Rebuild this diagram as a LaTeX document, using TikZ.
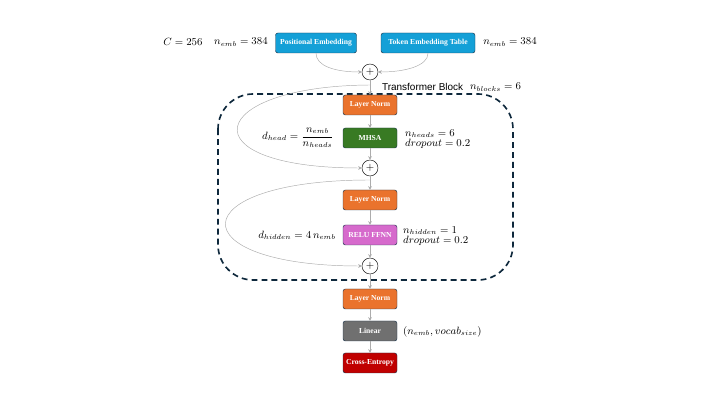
\documentclass[tikz,border=0pt]{standalone}
\usepackage{amsmath}
\usepackage{fontspec}
\setmainfont{Liberation Serif}
\newfontfamily\labelfont{Liberation Sans}
\usetikzlibrary{arrows.meta}

\definecolor{boxline}{RGB}{31,56,78}
\definecolor{blockline}{RGB}{14,40,60}
\definecolor{embblue}{RGB}{20,160,215}
\definecolor{normorange}{RGB}{234,115,45}
\definecolor{attngreen}{RGB}{56,122,35}
\definecolor{ffnpink}{RGB}{214,106,204}
\definecolor{lingray}{RGB}{112,112,112}
\definecolor{lossred}{RGB}{192,0,0}

\begin{document}
\begin{tikzpicture}[x=0.03cm, y=-0.03cm,
    layer/.style={draw=boxline, rounded corners=2pt, minimum height=0.6cm, minimum width=1.62cm,
                  inner sep=1pt, text=white, font=\fontsize{6.5}{7}\selectfont\bfseries},
    addop/.style={draw, circle, minimum size=0.48cm, inner sep=0pt, font=\small},
    flow/.style={gray!65, -{Stealth[length=3pt,width=3pt]}},
    note/.style={font=\small}]
    \useasboundingbox (0,0) rectangle (720,405);

    % Embeddings
    \node[layer, fill=embblue, minimum width=2.43cm] (posemb) at (316,43) {Positional Embedding};
    \node[layer, fill=embblue, minimum width=2.82cm] (tokemb) at (428,43) {Token Embedding Table};
    \node[note] (ctx) at (183,42) {$C = 256$};
    \node[note] (embl) at (241,42) {$n_{emb} = 384$};
    \node[note] (embr) at (510,42) {$n_{emb} = 384$};
    \node[addop] (add0) at (370,72) {$+$};
    \draw[flow] (posemb.south) .. controls (316,66) and (335,72) .. (add0.west);
    \draw[flow] (tokemb.south) .. controls (428,66) and (405,72) .. (add0.east);

    % Transformer block
    \draw[blockline, line width=1.4pt, dash pattern=on 5pt off 3.5pt, rounded corners=30pt] (218,94) rectangle (513,280);
    \node[anchor=west, font=\labelfont\fontsize{8.5}{10}\selectfont] (blk) at (378,87) {Transformer Block};
    \node[note, anchor=west] (nblk) at (466,87) {$n_{blocks} = 6$};

    \node[layer, fill=normorange] (norm1) at (370,105) {Layer Norm};
    \node[layer, fill=attngreen] (mhsa) at (370,138) {MHSA};
    \node[addop] (add1) at (370,168) {$+$};
    \node[layer, fill=normorange] (norm2) at (370,200) {Layer Norm};
    \node[layer, fill=ffnpink] (ffn) at (370,235) {RELU FFNN};
    \node[addop] (add2) at (370,266) {$+$};

    \node[note, anchor=east] (dhead) at (338,138) {$d_{head} = \dfrac{n_{emb}}{n_{heads}}$};
    \node[note, anchor=west, align=left] (attnp) at (401,139) {$n_{heads} = 6$\\[-2pt]$dropout = 0.2$};
    \node[note, anchor=east] (dhid) at (340,235) {$d_{hidden} = 4\,n_{emb}$};
    \node[note, anchor=west, align=left] (ffnp) at (399,236) {$n_{hidden} = 1$\\[-3pt]$dropout = 0.2$};

    % Residual paths
    \coordinate (res1) at (370,85);
    \coordinate (res2) at (370,180);
    \draw[flow] (add0) -- (norm1);
    \draw[flow] (norm1) -- (mhsa);
    \draw[flow] (mhsa) -- (add1);
    \draw[flow] (add1) -- (norm2);
    \draw[flow] (norm2) -- (ffn);
    \draw[flow] (ffn) -- (add2);
    \draw[flow] (res1) .. controls (205,86) and (185,168) .. (add1.west);
    \draw[flow] (res2) .. controls (180,180) and (178,266) .. (add2.west);

    % Head
    \node[layer, fill=normorange] (norm3) at (370,299) {Layer Norm};
    \node[layer, fill=lingray] (lin) at (370,331) {Linear};
    \node[layer, fill=lossred] (loss) at (370,363) {Cross-Entropy};
    \node[note, anchor=west] (linp) at (399,332) {$(n_{emb}, vocab_{size})$};
    \draw[flow] (add2) -- (norm3);
    \draw[flow] (norm3) -- (lin);
    \draw[flow] (lin) -- (loss);
\end{tikzpicture}
\end{document}
